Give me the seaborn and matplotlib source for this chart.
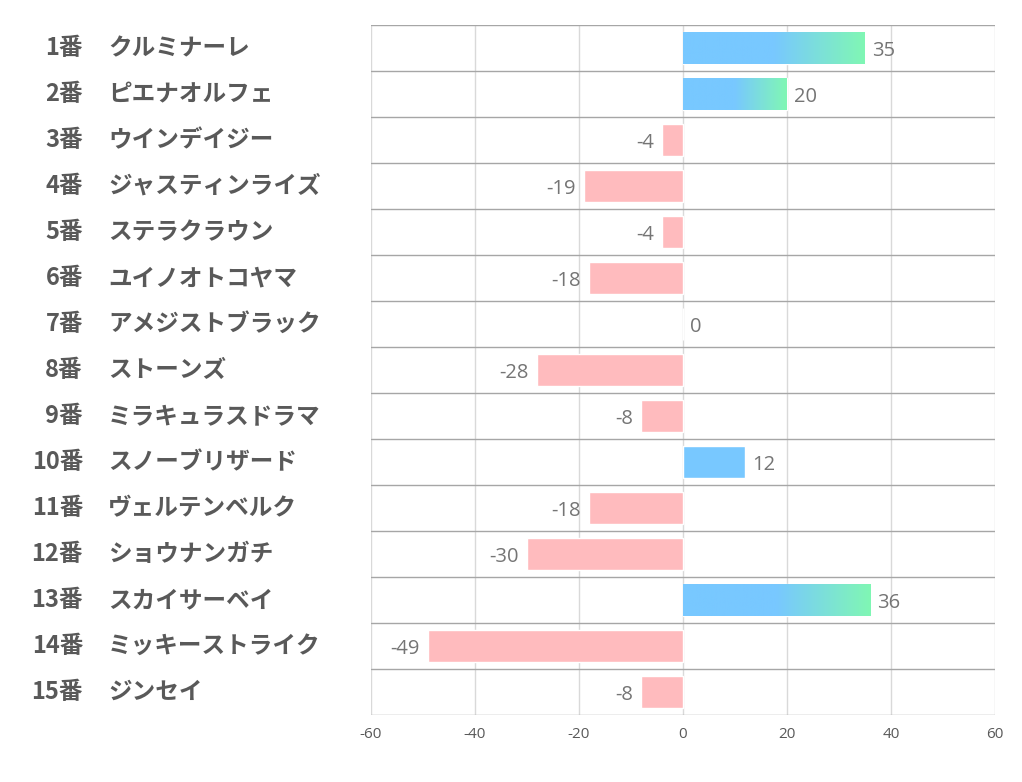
import numpy as np
import pandas as pd
import matplotlib
matplotlib.use("Agg")
import matplotlib.pyplot as plt
import matplotlib.transforms as mtransforms
from matplotlib.colors import to_rgb
import seaborn as sns

numbers = ["1番", "2番", "3番", "4番", "5番", "6番", "7番", "8番", "9番", "10番",
           "11番", "12番", "13番", "14番", "15番"]
names = ["クルミナーレ", "ピエナオルフェ", "ウインデイジー", "ジャスティンライズ", "ステラクラウン",
         "ユイノオトコヤマ", "アメジストブラック", "ストーンズ", "ミラキュラスドラマ", "スノーブリザード",
         "ヴェルテンベルク", "ショウナンガチ", "スカイサーベイ", "ミッキーストライク", "ジンセイ"]
values = [35, 20, -4, -19, -4, -18, 0, -28, -8, 12, -18, -30, 36, -49, -8]
x_ticks = [-60, -40, -20, 0, 20, 40, 60]

BLUE = "#78C8FF"
GREEN = "#80F7B4"
PINK = "#FFBBBE"

sns.set_theme(style="white")
plt.rcParams['font.family'] = ['Noto Sans CJK JP', 'DejaVu Sans']

df = pd.DataFrame({"label": [n + s for n, s in zip(numbers, names)],
                   "value": values})
df["sign"] = np.where(df["value"] >= 0, "pos", "neg")

fig = plt.figure(figsize=(10.22, 7.82), dpi=100)
ax = fig.add_axes([371 / 1022, 1 - 715 / 782, (995 - 371) / 1022, (715 - 25) / 782])

sns.barplot(data=df, y="label", x="value", hue="sign", orient="h",
            palette={"pos": BLUE, "neg": PINK}, width=0.68, dodge=False,
            legend=False, ax=ax, saturation=1)

ax.set_xlim(-60, 60)
n = len(values)
ax.set_ylim(n - 0.5, -0.5)
ax.set_xticks(x_ticks)
ax.set_xticklabels([str(t) for t in x_ticks], color="#595959", fontsize=11,
                   family=['Open Sans', 'DejaVu Sans'])
ax.tick_params(axis="x", length=0, pad=9)
ax.set_yticks([])
ax.set_xlabel("")
ax.set_ylabel("")
for s in ax.spines.values():
    s.set_visible(False)

for t in x_ticks:
    ax.axvline(t, color="#D9D9D9", lw=1, zorder=0)
for i in range(n + 1):
    ax.axhline(i - 0.5, color="#A6A6A6", lw=1, zorder=0.5)

# gradient overlay for big positive bars
c1 = np.array(to_rgb(BLUE))
c2 = np.array(to_rgb(GREEN))
tt = np.linspace(0, 1, 256)
frac = np.clip((tt - 0.5) / 0.5, 0, 1)
grad = (c1[None, :] * (1 - frac[:, None]) + c2[None, :] * frac[:, None])[None, :, :]
for p in ax.patches:
    w = p.get_width()
    if w >= 20:
        x0, y0, h = p.get_x(), p.get_y(), p.get_height()
        ax.imshow(grad, extent=[x0, x0 + w, y0 + h, y0], aspect="auto",
                  zorder=p.get_zorder() + 0.1, interpolation="bilinear")
ax.set_xlim(-60, 60)
ax.set_ylim(n - 0.5, -0.5)

# value labels
for i, v in enumerate(values):
    if v >= 0:
        ax.annotate(str(v), (v, i), xytext=(5, -2), textcoords="offset points",
                    ha="left", va="center", fontsize=14.5, color="#757575",
                    family=['Open Sans', 'DejaVu Sans'])
    else:
        ax.annotate(str(v), (v, i), xytext=(-6, -2), textcoords="offset points",
                    ha="right", va="center", fontsize=14.5, color="#757575",
                    family=['Open Sans', 'DejaVu Sans'])

# row labels
trans = mtransforms.blended_transform_factory(fig.transFigure, ax.transData)
for i in range(n):
    ax.text(83 / 1022, i, numbers[i], transform=trans, ha="right", va="center",
            fontsize=17, fontweight="bold", color="#595959")
    ax.text(108 / 1022, i, names[i], transform=trans, ha="left", va="center",
            fontsize=17, fontweight="bold", color="#595959")

fig.savefig("out.png", dpi=100)
